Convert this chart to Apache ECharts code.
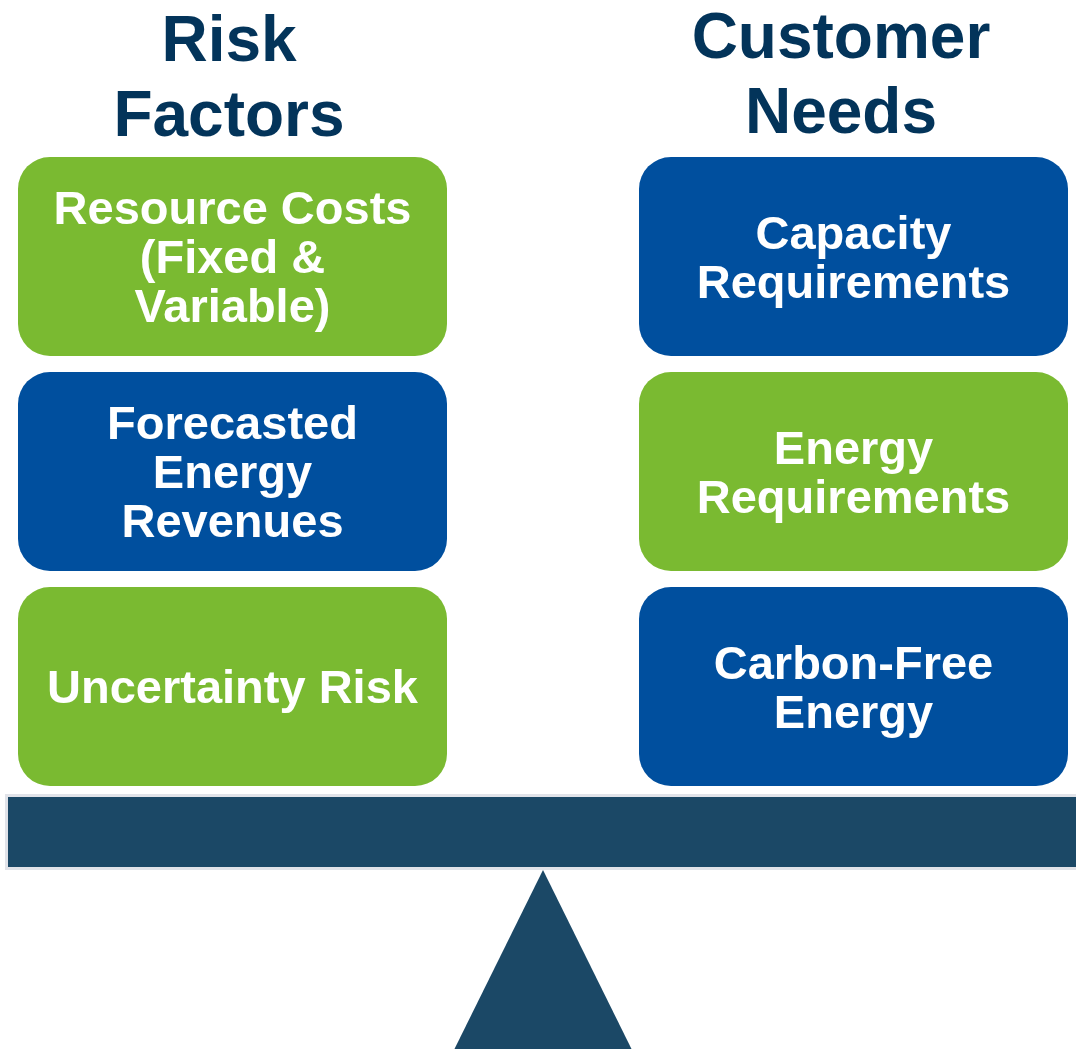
<!DOCTYPE html>
<html>
<head>
<meta charset="utf-8">
<script src="https://cdn.jsdelivr.net/npm/echarts@6/dist/echarts.min.js"></script>
<style>
  html, body { margin: 0; padding: 0; background: #fff; }
  #chart { width: 1076px; height: 1049px; }
</style>
</head>
<body>
<div id="chart"></div>
<script>
  const headers = ['Risk\nFactors', 'Customer\nNeeds'];
  const riskFactors = ['Resource Costs\n(Fixed &\nVariable)', 'Forecasted\nEnergy\nRevenues', 'Uncertainty Risk'];
  const customerNeeds = ['Capacity\nRequirements', 'Energy\nRequirements', 'Carbon-Free\nEnergy'];

  const GREEN = '#7aba31';
  const BLUE = '#004f9e';
  const NAVY = '#03345a';
  const BEAM = '#1b4866';
  const FONT = '"Liberation Sans", Arial, sans-serif';

  // box size in axis units (column pitch = 1, row pitch = 1)
  const BOX_W = 429 / 621;
  const BOX_H = 199 / 215;

  const boxes = riskFactors.map((t, i) => [0, i, t])
    .concat(customerNeeds.map((t, i) => [1, i, t]));

  const chart = echarts.init(document.getElementById('chart'));

  chart.setOption({
    animation: false,
    grid: { left: 18, right: 8, top: 157, bottom: 263 },
    xAxis: { type: 'value', min: 0, max: 1 + BOX_W, show: false },
    yAxis: { type: 'value', min: 0, max: 2 + BOX_H, inverse: true, show: false },
    graphic: [
      {
        type: 'text',
        x: 229, y: 81,
        style: { text: headers[0], font: 'bold 64px ' + FONT, fill: NAVY, align: 'center', verticalAlign: 'middle', lineHeight: 75 },
      },
      {
        type: 'text',
        x: 841, y: 78,
        style: { text: headers[1], font: 'bold 64px ' + FONT, fill: NAVY, align: 'center', verticalAlign: 'middle', lineHeight: 75 },
      },
      {
        type: 'rect',
        shape: { x: 6.5, y: 795.5, width: 1080, height: 73 },
        style: { fill: BEAM, stroke: '#e1e3e9', lineWidth: 3 },
      },
      {
        type: 'polygon',
        shape: { points: [[543, 870], [453, 1052], [633, 1052]] },
        style: { fill: BEAM },
      },
    ],
    series: [
      {
        type: 'custom',
        clip: false,
        data: boxes,
        renderItem: (params, api) => {
          const col = api.value(0);
          const row = api.value(1);
          const p0 = api.coord([col, row]);
          const p1 = api.coord([col + BOX_W, row + BOX_H]);
          const w = p1[0] - p0[0];
          const h = p1[1] - p0[1];
          const label = boxes[params.dataIndex][2];
          return {
            type: 'group',
            children: [
              {
                type: 'rect',
                shape: { x: p0[0], y: p0[1], width: w, height: h, r: 32 },
                style: { fill: (col + row) % 2 === 0 ? GREEN : BLUE },
              },
              {
                type: 'text',
                x: p0[0] + w / 2,
                y: p0[1] + h / 2 + 4,
                style: {
                  text: label,
                  font: 'bold 47px ' + FONT,
                  fill: '#fff',
                  align: 'center',
                  verticalAlign: 'middle',
                  lineHeight: 49,
                },
              },
            ],
          };
        },
      },
    ],
  });
</script>
</body>
</html>
